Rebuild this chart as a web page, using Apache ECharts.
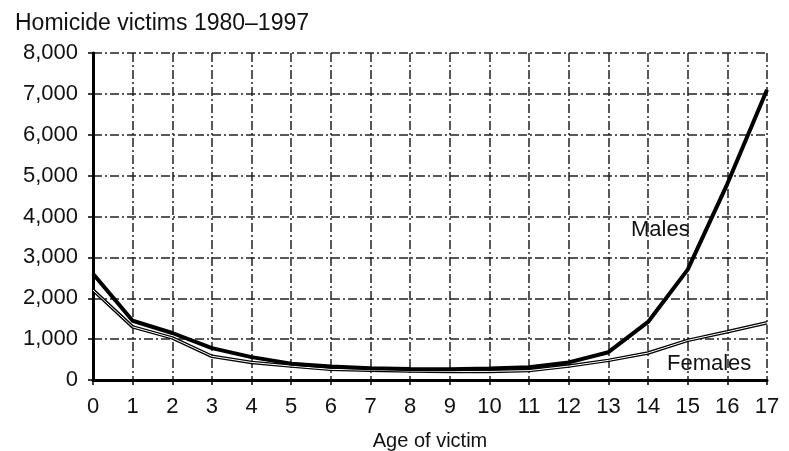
<!DOCTYPE html>
<html><head><meta charset="utf-8">
<script src="https://cdn.jsdelivr.net/npm/echarts@6/dist/echarts.min.js"></script>
<style>html,body{margin:0;padding:0;background:#fff}#c{width:789px;height:451px}</style>
</head><body><div id="c"></div>
<script>
const ages = ['0','1','2','3','4','5','6','7','8','9','10','11','12','13','14','15','16','17'];
const males = [2600,1450,1150,780,560,400,330,290,270,260,280,310,430,680,1420,2700,4800,7100];
const females = [2200,1300,1030,580,430,340,260,240,220,210,210,230,340,480,660,970,1180,1400];
const yTicks = [0,1000,2000,3000,4000,5000,6000,7000,8000];
const FONT = 'Liberation Sans';
const chart = echarts.init(document.getElementById('c'));
const dash = [9,3,2,3];
chart.setOption({
  animation:false,
  grid:{left:93,right:22,top:53,bottom:71,containLabel:false,outerBoundsMode:'none'},
  xAxis:{type:'category',data:ages,boundaryGap:false,
    name:'Age of victim',nameLocation:'middle',nameGap:51,
    nameTextStyle:{fontFamily:FONT,fontSize:20,color:'#111'},
    axisLine:{show:true,lineStyle:{color:'#000',width:3}},
    axisTick:{show:true,length:5,lineStyle:{color:'#000',width:1.5}},
    axisLabel:{fontFamily:FONT,fontSize:22,color:'#111',margin:16},
    splitLine:{show:true,lineStyle:{color:'#222',width:1.5,type:dash}}},
  yAxis:{type:'value',min:yTicks[0],max:yTicks[yTicks.length-1],interval:1000,
    axisLine:{show:true,lineStyle:{color:'#000',width:3}},
    axisTick:{show:true,length:5,lineStyle:{color:'#000',width:1.5}},
    axisLabel:{fontFamily:FONT,fontSize:22,color:'#111',margin:15,
      formatter:v=>v.toLocaleString('en-US')},
    splitLine:{show:true,lineStyle:{color:'#222',width:1.5,type:dash}}},
  title:{text:'Homicide victims 1980–1997',left:10,top:7,
    textStyle:{fontFamily:FONT,fontSize:23,fontWeight:'normal',color:'#111'}},
  graphic:[
    {type:'text',left:631,top:219,style:{text:'Males',font:'22px "Liberation Sans"',fill:'#111'}},
    {type:'text',left:667,top:353,style:{text:'Females',font:'22px "Liberation Sans"',fill:'#111'}}
  ],
  series:[
    {name:'Females',type:'line',data:females,symbol:'none',lineStyle:{color:'#000',width:3.5},z:3},
    {name:'Females',type:'line',data:females,symbol:'none',lineStyle:{color:'#fff',width:1},z:4},
    {name:'Males',type:'line',data:males,symbol:'none',lineStyle:{color:'#000',width:4},z:5}
  ]
});
</script></body></html>
